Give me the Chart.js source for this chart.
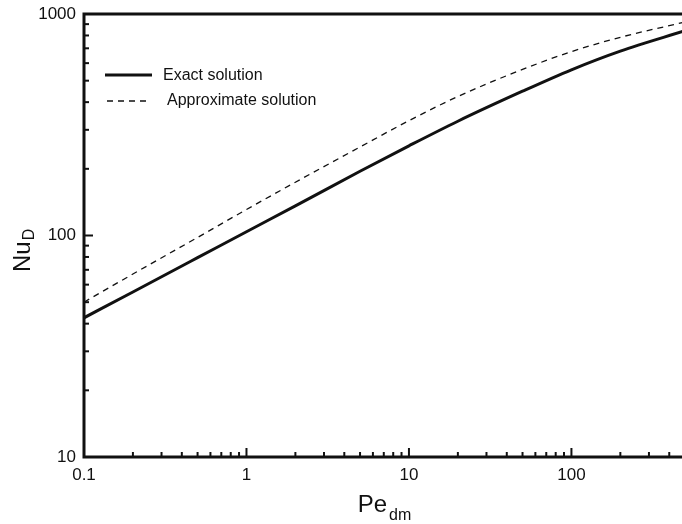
<!DOCTYPE html>
<html lang="en">
<head>
  <meta charset="UTF-8">
  <title>Nu vs Pe</title>
  <script src="https://cdn.jsdelivr.net/npm/chart.js"></script>
  <style>
    html, body { margin: 0; padding: 0; background: #fff; overflow: hidden; }
    #wrap { position: relative; width: 688px; height: 524px; }
  </style>
</head>
<body>
  <div id="wrap"><canvas id="grafico"></canvas></div>
  <script>
    // Datos
    const peValues = [0.1, 0.2, 0.5, 1, 2, 5, 10, 20, 50, 100, 200, 500];
    const exactNu = [42.5, 55.6, 79.4, 104, 136, 195, 254, 328, 448, 560, 680, 840];
    const approxNu = [50, 67, 98, 131, 174, 251, 330, 424, 562, 676, 785, 920];
    const xTicks = [];
    [0.1, 1, 10, 100].forEach(d => { for (let k = 1; k <= 9; k++) { const v = +(k * d).toPrecision(3); if (v <= 500) xTicks.push(v); } });
    const yTicks = [];
    [10, 100].forEach(d => { for (let k = 1; k <= 9; k++) yTicks.push(k * d); });
    yTicks.push(1000);
    const xLabels = [0.1, 1, 10, 100];
    const yLabels = [10, 100, 1000];

    const FONT = 'Liberation Sans, Arial, sans-serif';

    // Marco, marcas interiores, titulos de ejes y leyenda
    const decor = {
      id: 'decor',
      afterDraw(chart) {
        const ctx = chart.ctx, a = chart.chartArea;
        const xs = chart.scales.x, ys = chart.scales.y;
        ctx.save();
        ctx.strokeStyle = '#111';
        ctx.lineWidth = 2;
        xTicks.forEach(v => {
          const px = xs.getPixelForValue(v);
          const len = xLabels.includes(v) ? 9 : 5;
          ctx.beginPath(); ctx.moveTo(px, a.bottom); ctx.lineTo(px, a.bottom - len); ctx.stroke();
        });
        yTicks.forEach(v => {
          const py = ys.getPixelForValue(v);
          const len = yLabels.includes(v) ? 9 : 5;
          ctx.beginPath(); ctx.moveTo(a.left, py); ctx.lineTo(a.left + len, py); ctx.stroke();
        });
        ctx.lineWidth = 3;
        ctx.strokeRect(a.left, a.top, a.right - a.left, a.bottom - a.top);

        // leyenda
        ctx.fillStyle = '#111';
        ctx.font = '16px ' + FONT;
        ctx.textBaseline = 'middle';
        ctx.lineWidth = 3;
        ctx.beginPath(); ctx.moveTo(105, 75); ctx.lineTo(152, 75); ctx.stroke();
        ctx.fillText('Exact solution', 163, 76);
        ctx.lineWidth = 1.3;
        ctx.setLineDash([6, 5]);
        ctx.beginPath(); ctx.moveTo(107, 101); ctx.lineTo(150, 101); ctx.stroke();
        ctx.setLineDash([]);
        ctx.fillText('Approximate solution', 167, 101);

        // titulo eje x: Pe_dm
        ctx.textBaseline = 'alphabetic';
        ctx.font = '24px ' + FONT;
        const wPe = ctx.measureText('Pe').width;
        ctx.font = '16px ' + FONT;
        const wDm = ctx.measureText('dm').width;
        const cx = (a.left + a.right) / 2;
        let x0 = cx - (wPe + 2 + wDm) / 2;
        ctx.font = '24px ' + FONT;
        ctx.fillText('Pe', x0, 512);
        ctx.font = '16px ' + FONT;
        ctx.fillText('dm', x0 + wPe + 2, 520);

        // titulo eje y: Nu_D
        ctx.translate(30, 272);
        ctx.rotate(-Math.PI / 2);
        ctx.font = '24px ' + FONT;
        const wNu = ctx.measureText('Nu').width;
        ctx.fillText('Nu', 0, 0);
        ctx.font = '16px ' + FONT;
        ctx.fillText('D', wNu + 1, 4);
        ctx.restore();
      }
    };

    const grafico = new Chart(document.getElementById('grafico'), {
      type: 'line',
      data: {
        datasets: [
          {
            label: 'Exact solution',
            data: peValues.map((p, i) => ({ x: p, y: exactNu[i] })),
            borderColor: '#111',
            borderWidth: 3,
            pointRadius: 0,
            cubicInterpolationMode: 'monotone'
          },
          {
            label: 'Approximate solution',
            data: peValues.map((p, i) => ({ x: p, y: approxNu[i] })),
            borderColor: '#111',
            borderWidth: 1.3,
            borderDash: [6, 5],
            pointRadius: 0,
            cubicInterpolationMode: 'monotone'
          }
        ]
      },
      options: {
        responsive: true,
        maintainAspectRatio: false,
        animation: false,
        layout: { padding: { top: 14, right: 3, left: 0, bottom: 0 } },
        plugins: { legend: { display: false }, tooltip: { enabled: false } },
        scales: {
          x: {
            type: 'logarithmic',
            min: 0.1,
            max: 500,
            afterBuildTicks: s => { s.ticks = xLabels.map(v => ({ value: v })); },
            afterFit: s => { s.height = 67; s.paddingLeft = 0; s.paddingRight = 0; },
            grid: { display: false, drawTicks: false },
            border: { display: false },
            ticks: {
              color: '#111',
              font: { size: 17, family: FONT },
              padding: 8,
              maxRotation: 0,
              autoSkip: false,
              callback: v => String(v)
            }
          },
          y: {
            type: 'logarithmic',
            min: 10,
            max: 1000,
            afterBuildTicks: s => { s.ticks = yLabels.map(v => ({ value: v })); },
            afterFit: s => { s.width = 84; s.paddingTop = 0; s.paddingBottom = 0; },
            grid: { display: false, drawTicks: false },
            border: { display: false },
            ticks: {
              color: '#111',
              font: { size: 17, family: FONT },
              padding: 8,
              autoSkip: false,
              callback: v => String(v)
            }
          }
        }
      },
      plugins: [decor]
    });
  </script>
</body>
</html>
